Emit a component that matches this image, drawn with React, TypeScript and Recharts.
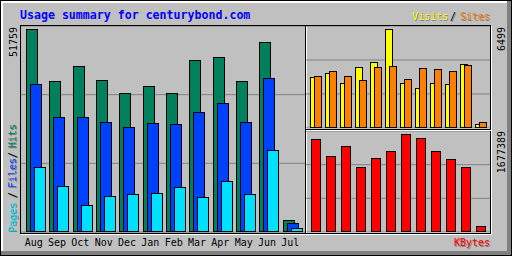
import React from 'react';
import { BarChart, Bar, XAxis, YAxis, CartesianGrid } from 'recharts';

const months = ['Aug', 'Sep', 'Oct', 'Nov', 'Dec', 'Jan', 'Feb', 'Mar', 'Apr', 'May', 'Jun', 'Jul'];
const hits = [51759, 38488, 42320, 38744, 35424, 37212, 35424, 43852, 44619, 38488, 48450, 3065];
const files = [37723, 29295, 29295, 28018, 26741, 27762, 27507, 30572, 32870, 28018, 39256, 2222];
const pages = [16525, 11672, 6819, 9118, 9629, 9884, 11417, 8863, 12949, 9629, 20867, 945];
const visits = [3328, 3591, 2935, 3985, 4313, 6499, 2935, 2606, 2935, 2869, 4182, 243];
const sites = [3394, 3722, 3394, 3131, 3985, 4050, 3197, 3919, 3854, 3722, 4116, 374];
const kbytes = [1591500, 1299700, 1471400, 1110800, 1265300, 1385500, 1677389, 1608700, 1385500, 1248200, 1110800, 97900];

const title = 'Usage summary for centurybond.com';
const hitsMaxLabel = '51759';
const visitsMaxLabel = '6499';
const kbytesMaxLabel = '1677389';

// axis tops (scale headroom above the largest bar)
const mainTop = 52600;
const visitsTop = 6716;
const kbytesTop = 1734000;

const mainData = months.map((m, i) => ({ m, hits: hits[i], files: files[i], pages: pages[i] }));
const vsData = months.map((m, i) => ({ m, visits: visits[i], sites: sites[i] }));
const kbData = months.map((m, i) => ({ m, kbytes: kbytes[i] }));

const C = {
  bg: '#c0c0c0',
  dk: '#808080',
  hits: '#00805c',
  files: '#0040ff',
  pages: '#00e0ff',
  visits: '#ffff00',
  sites: '#ff8000',
  kbytes: '#ff0000',
  title: '#0000ff',
};

const MONO = '"DejaVu Sans Mono", monospace';

const Box = (p: any) => {
  const { x, y, width, height, fill } = p;
  if (height == null || height <= 0) return null;
  const x0 = Math.round(x);
  const y0 = Math.round(y);
  const w = Math.round(width);
  const h = Math.round(y + height) - y0;
  if (h < 1) return null;
  return (
    <rect
      x={x0 + 0.5}
      y={y0 + 0.5}
      width={Math.max(w - 1, 0)}
      height={Math.max(h - 1, 0)}
      fill={fill}
      stroke="#000"
      strokeWidth={1}
    />
  );
};

const shape = (p: any) => <Box {...p} />;

const Shadow = ({ x, y, color, children, rot, anchor, size = 10, bold = false }: any) => {
  const common: any = {
    fontFamily: MONO,
    fontSize: size,
    fontWeight: bold ? 'bold' : 'normal',
    textAnchor: anchor || 'start',
  };
  const t = (dx: number, dy: number) => (rot ? `translate(${x + dx},${y + dy}) rotate(-90)` : `translate(${x + dx},${y + dy})`);
  return (
    <g>
      <text {...common} transform={t(1, 1)} x={0} y={0} fill={C.dk}>{children}</text>
      <text {...common} transform={t(0, 0)} x={0} y={0} fill={color}>{children}</text>
    </g>
  );
};

const Frame = () => (
  <svg width={512} height={256} style={{ position: 'absolute', left: 0, top: 0 }} shapeRendering="crispEdges">
    <rect x={0} y={0} width={512} height={256} fill={C.bg} />
    {/* bevel */}
    <rect x={1} y={1} width={510} height={2} fill="#fff" />
    <rect x={1} y={1} width={2} height={254} fill="#fff" />
    <rect x={1} y={251} width={510} height={4} fill={C.dk} />
    <rect x={507} y={1} width={4} height={254} fill={C.dk} />
    <rect x={0.5} y={0.5} width={511} height={255} fill="none" stroke="#000" />
    {/* main box */}
    <rect x={20.5} y={25.5} width={285} height={208} fill="none" stroke="#000" />
    <line x1={21} y1={234.5} x2={307} y2={234.5} stroke="#fff" />
    <line x1={306.5} y1={26} x2={306.5} y2={234} stroke="#fff" />
    {/* right boxes */}
    <line x1={305} y1={25.5} x2={491} y2={25.5} stroke="#000" />
    <line x1={490.5} y1={25} x2={490.5} y2={234} stroke="#000" />
    <line x1={305} y1={129.5} x2={491} y2={129.5} stroke="#000" />
    <line x1={306} y1={130.5} x2={491} y2={130.5} stroke="#fff" />
    <line x1={305} y1={233.5} x2={491} y2={233.5} stroke="#000" />
    <line x1={491.5} y1={26} x2={491.5} y2={235} stroke="#fff" />
    <line x1={306} y1={234.5} x2={492} y2={234.5} stroke="#fff" />

    {/* title */}
    <text x={20} y={19} fontFamily={MONO} fontSize={11.6} fontWeight="bold" fill={C.title}>{title}</text>

    {/* Visits / Sites */}
    <Shadow x={412} y={20} color={C.visits}>Visits</Shadow>
    <Shadow x={450} y={20} color="#000">/</Shadow>
    <Shadow x={460} y={20} color={C.sites}>Sites</Shadow>

    {/* max labels */}
    <text transform="translate(17,27) rotate(-90)" textAnchor="end" fontFamily={MONO} fontSize={10} fill="#000">{hitsMaxLabel}</text>
    <text transform="translate(505,27) rotate(-90)" textAnchor="end" fontFamily={MONO} fontSize={10} fill="#000">{visitsMaxLabel}</text>
    <text transform="translate(505,131) rotate(-90)" textAnchor="end" fontFamily={MONO} fontSize={10} fill="#000">{kbytesMaxLabel}</text>

    {/* Pages / Files / Hits legend */}
    <Shadow x={16} y={232} rot color={C.pages}>Pages</Shadow>
    <Shadow x={16} y={198} rot color="#000">/</Shadow>
    <Shadow x={16} y={188} rot color={C.files}>Files</Shadow>
    <Shadow x={16} y={158} rot color="#000">/</Shadow>
    <Shadow x={16} y={148} rot color={C.hits}>Hits</Shadow>

    {/* KBytes */}
    <Shadow x={454} y={246} color={C.kbytes}>KBytes</Shadow>
  </svg>
);

export default function App() {
  return (
    <div style={{ position: 'absolute', left: 0, top: 0, width: 512, height: 256, background: C.bg }}>
      <Frame />
      <div style={{ position: 'absolute', left: 21, top: 26 }}>
        <BarChart width={284} height={228} data={mainData} margin={{ top: 0, right: 0, bottom: 0, left: 0 }} barGap={-8}>
          <CartesianGrid vertical={false} stroke={C.dk} />
          <XAxis
            dataKey="m"
            padding={{ left: 3, right: 1 }}
            axisLine={false}
            tickLine={false}
            tickSize={0}
            tickMargin={7}
            height={22}
            interval={0}
            dx={-2}
            tick={{ fill: '#000', fontSize: 10, fontFamily: MONO }}
          />
          <YAxis hide domain={[0, mainTop]} ticks={[mainTop / 3, (2 * mainTop) / 3]} />
          <Bar dataKey="hits" fill={C.hits} barSize={12} shape={shape} isAnimationActive={false} />
          <Bar dataKey="files" fill={C.files} barSize={12} shape={shape} isAnimationActive={false} />
          <Bar dataKey="pages" fill={C.pages} barSize={12} shape={shape} isAnimationActive={false} />
        </BarChart>
      </div>
      <div style={{ position: 'absolute', left: 306, top: 26 }}>
        <BarChart width={184} height={102} data={vsData} margin={{ top: 0, right: 0, bottom: 0, left: 0 }} barGap={-4}>
          <CartesianGrid vertical={false} stroke={C.dk} />
          <XAxis dataKey="m" hide padding={{ left: 2, right: 2 }} />
          <YAxis hide domain={[0, visitsTop]} ticks={[visitsTop / 3, (2 * visitsTop) / 3]} />
          <Bar dataKey="visits" fill={C.visits} barSize={8} shape={shape} isAnimationActive={false} />
          <Bar dataKey="sites" fill={C.sites} barSize={8} shape={shape} isAnimationActive={false} />
        </BarChart>
      </div>
      <div style={{ position: 'absolute', left: 306, top: 131 }}>
        <BarChart width={184} height={101} data={kbData} margin={{ top: 0, right: 0, bottom: 0, left: 0 }}>
          <CartesianGrid vertical={false} stroke={C.dk} />
          <XAxis dataKey="m" hide padding={{ left: 2, right: 2 }} />
          <YAxis hide domain={[0, kbytesTop]} ticks={[kbytesTop / 3, (2 * kbytesTop) / 3]} />
          <Bar dataKey="kbytes" fill={C.kbytes} barSize={10} shape={shape} isAnimationActive={false} />
        </BarChart>
      </div>
    </div>
  );
}
